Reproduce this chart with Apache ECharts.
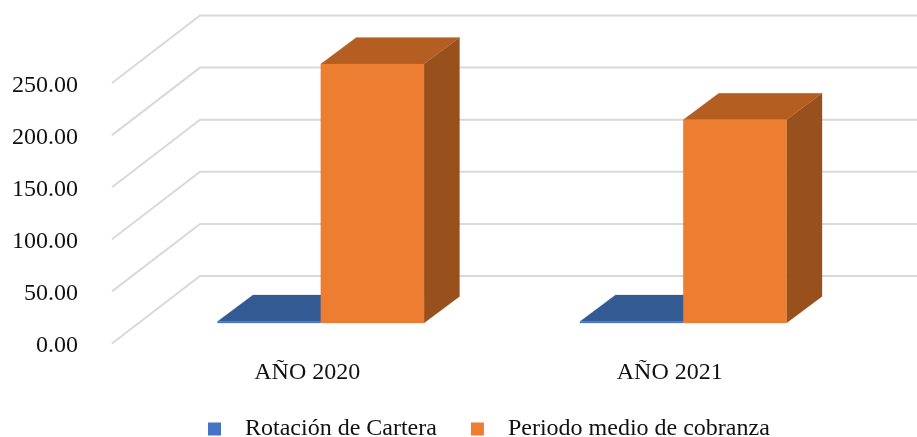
<!DOCTYPE html>
<html>
<head>
<meta charset="utf-8">
<style>
  html, body { margin: 0; padding: 0; background: #fff; }
  #chart { width: 917px; height: 437px; }
</style>
<script src="https://cdn.jsdelivr.net/npm/echarts@6/dist/echarts.min.js"></script>
</head>
<body>
<div id="chart"></div>
<script>
const categories = ['AÑO 2020', 'AÑO 2021'];
const rotacion = [1.5, 1.5];
const periodo = [248.6, 195];
const ticks = [0, 50, 100, 150, 200, 250];

const chart = echarts.init(document.getElementById('chart'));
const serif = '"Liberation Serif", "Times New Roman", serif';

// profundidad del piso 3D en px
const wallDx = 88, wallDy = -67.5;
const frontDx = 13.5, frontDy = -23;
const barDx = 35.5, barDy = -26.5;
const barW = 103.3;
const labelShift = 2.5; // las etiquetas del eje van un poco debajo de la linea

function poly(points, fill) {
  return { type: 'polygon', shape: { points }, style: { fill, stroke: fill, lineWidth: 0.2 } };
}

function renderGrid(params, api) {
  const cs = params.coordSys;
  const y = api.coord([0, api.value(0)])[1] - labelShift;
  const x0 = cs.x - 14;
  return {
    type: 'polyline',
    shape: { points: [[x0, y], [x0 + wallDx, y + wallDy], [917, y + wallDy]] },
    style: { fill: 'none', stroke: '#d9d9d9', lineWidth: 2 }
  };
}

// side: 0 barra izquierda, 1 barra derecha
function renderBar(colors, side) {
  return function (params, api) {
    const base = api.coord([api.value(0), 0]);
    const top = api.coord([api.value(0), api.value(1)]);
    const xl = base[0] + frontDx + (side - 1) * barW;
    const xr = xl + barW;
    const yb = base[1] + frontDy;
    const yt = top[1] + frontDy;
    return {
      type: 'group',
      children: [
        poly([[xr, yt], [xr + barDx, yt + barDy], [xr + barDx, yb + barDy], [xr, yb]], colors.side),
        poly([[xl, yt], [xl + barDx, yt + barDy], [xr + barDx, yt + barDy], [xr, yt]], colors.top),
        poly([[xl, yt], [xr, yt], [xr, yb], [xl, yb]], colors.front)
      ]
    };
  };
}

chart.setOption({
  animation: false,
  grid: { left: 126, width: 725, top: 85.5, height: 260.5 },
  legend: {
    data: ['Rotación de Cartera', 'Periodo medio de cobranza'],
    left: 203,
    top: 412,
    itemWidth: 13,
    itemHeight: 13,
    itemGap: 34,
    icon: 'rect',
    textStyle: { fontFamily: serif, fontSize: 24, color: '#111', padding: [0, 0, 0, 19] }
  },
  xAxis: {
    type: 'category',
    data: categories,
    axisLine: { show: false },
    axisTick: { show: false },
    axisLabel: { fontFamily: serif, fontSize: 24, color: '#111', margin: 15 }
  },
  yAxis: {
    type: 'value',
    min: 0,
    max: 250,
    interval: 50,
    splitLine: { show: false },
    axisLine: { show: false },
    axisTick: { show: false },
    axisLabel: {
      fontFamily: serif, fontSize: 24, color: '#111', margin: 48,
      formatter: v => v.toFixed(2)
    }
  },
  series: [
    {
      name: 'grid',
      type: 'custom',
      silent: true,
      renderItem: renderGrid,
      encode: { y: 0 },
      data: ticks.map(v => [v])
    },
    {
      name: 'Rotación de Cartera',
      type: 'custom',
      itemStyle: { color: '#4472c4' },
      renderItem: renderBar({ front: '#4472c4', top: '#345a94', side: '#294a7c' }, 0),
      encode: { x: 0, y: 1 },
      data: rotacion.map((v, i) => [i, v])
    },
    {
      name: 'Periodo medio de cobranza',
      type: 'custom',
      itemStyle: { color: '#ed7d31' },
      renderItem: renderBar({ front: '#ed7d31', top: '#b55e22', side: '#98501c' }, 1),
      encode: { x: 0, y: 1 },
      data: periodo.map((v, i) => [i, v])
    }
  ]
});
</script>
</body>
</html>
